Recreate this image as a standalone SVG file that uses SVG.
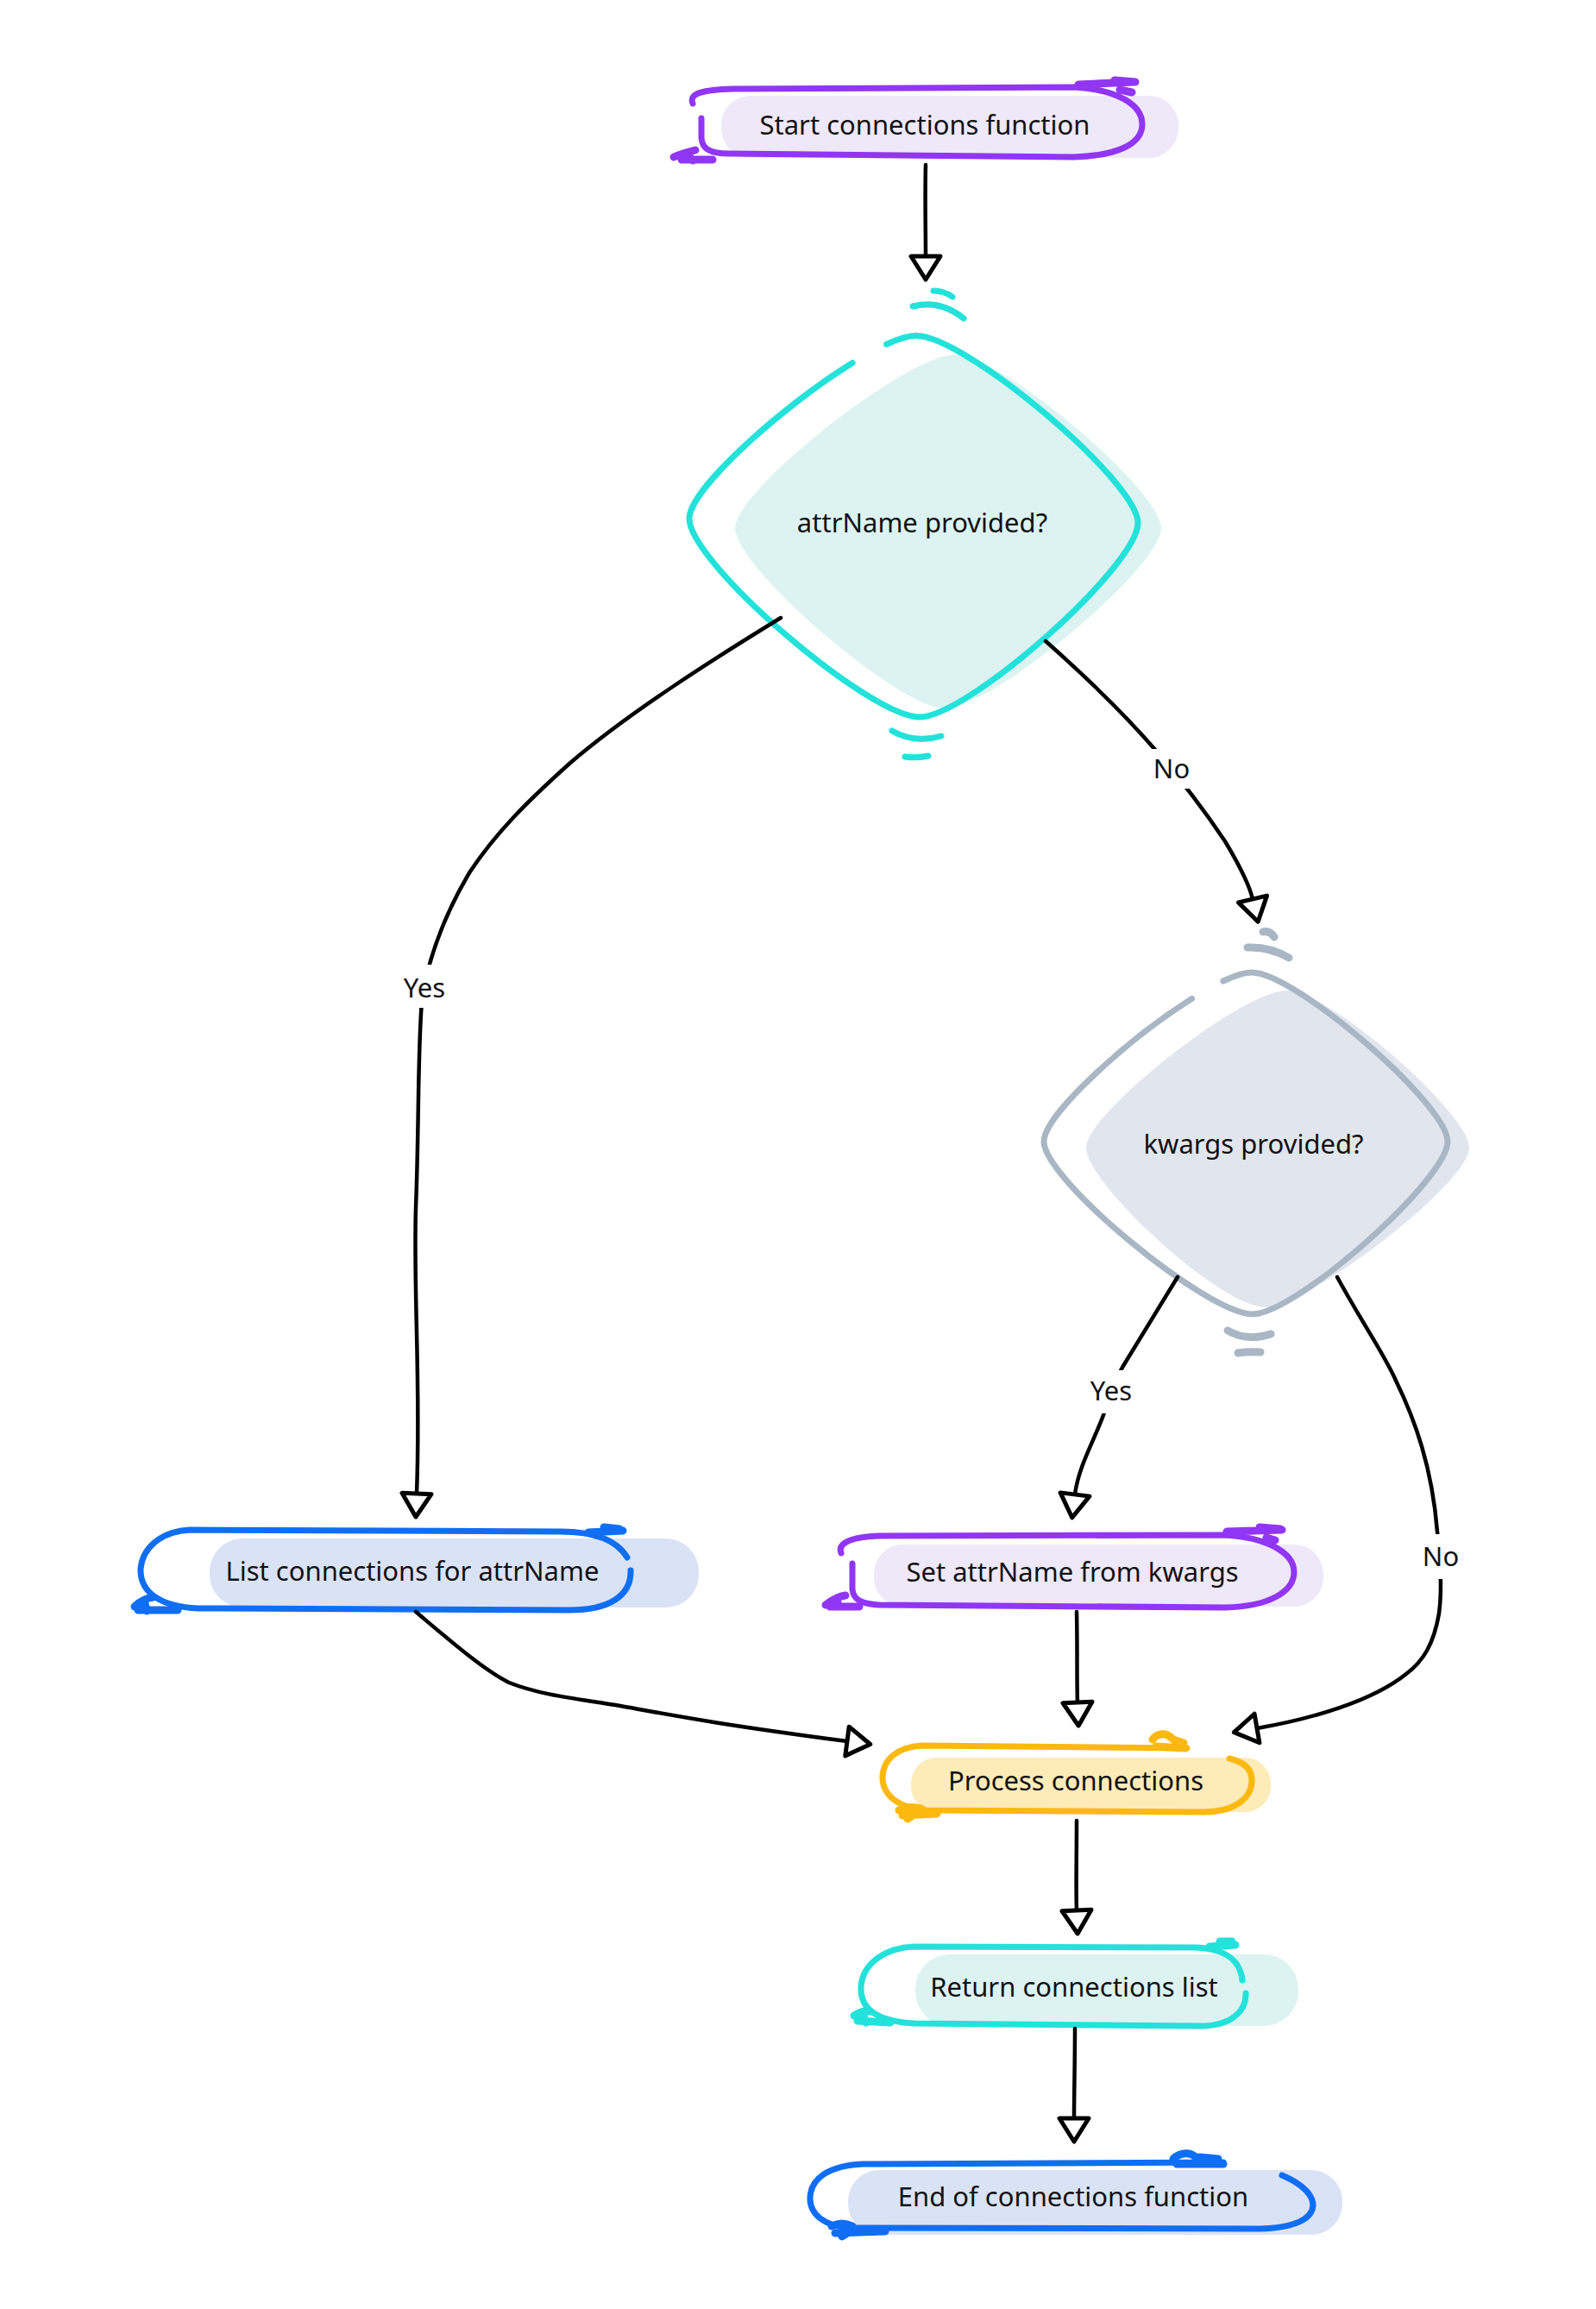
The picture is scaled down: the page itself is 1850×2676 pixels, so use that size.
<svg xmlns="http://www.w3.org/2000/svg" width="1850" height="2676" viewBox="0 0 1850 2676">
<style>
text { font-family: "Noto Sans", "Open Sans", "DejaVu Sans", sans-serif; font-size: 31px; fill: #111; text-anchor: middle; }
.o { fill: none; stroke-width: 7; stroke-linecap: round; stroke-linejoin: round; }
.sc { fill: none; stroke-width: 9; stroke-linecap: round; stroke-linejoin: round; }
.pu { stroke: #9136F5; }
.pu-f { fill: #EEE8F8; }
.te { stroke: #22E2DA; }
.te-f { fill: #DCF3F2; }
.bl { stroke: #0F6EF4; }
.bl-f { fill: #DAE3F5; }
.ye { stroke: #FBB90F; }
.ye-f { fill: #FDEBB8; }
.gr { stroke: #A9B6C4; }
.gr-f { fill: #E1E6EE; }
.e { fill: none; stroke: #000; stroke-width: 4.5; stroke-linecap: round; stroke-linejoin: round; }
.lbg { fill: #fff; }
</style>
<defs>
<marker id="ah" markerUnits="userSpaceOnUse" viewBox="-4 -21 38 42" markerWidth="38" markerHeight="42" refX="0" refY="0" orient="auto">
<path d="M0,-17 L27,0 L0,17 Z" fill="#fff" stroke="#000" stroke-width="5" stroke-linejoin="round"/>
</marker>
</defs>
<rect x="0" y="0" width="1850" height="2676" fill="#fff"/>

<g id="node-start">
<rect class="pu-f" x="836" y="111" width="530" height="72" rx="34"/>
<path class="o pu" d="M 803,120 C 798,108 815,104 850,103 L 1245,101 C 1297,104 1324,122 1324,144 C 1324,166 1298,180 1245,182 L 845,178 C 822,178 814,172 813,160 L 813,137"/>
<path class="sc pu" d="M 1250,98 L 1314,95 M 1292,93 L 1316,95 M 1298,104 L 1312,107"/>
<path class="sc pu" d="M 781,182 C 790,178 798,176 806,174 M 790,185 L 826,185 M 796,178 L 803,186"/>
<text x="1072" y="156">Start connections function</text>
</g>

<g id="node-attrName">
<path class="te-f" d="M 1107,411 C 1160,411 1346,568 1346,612 C 1346,658 1150,821 1095,821 C 1042,821 852,658 852,612 C 852,568 1051,411 1107,411 Z"/>
<path class="o te" pathLength="1000" stroke-dasharray="942 32 200" d="M 1062,389 C 1119,389 1319,558 1319,606 C 1319,656 1122,831 1066,831 C 1007,831 799,652 799,601 C 799,554 1004,389 1062,389"/>
<path class="o te" d="M 1082,337 Q 1094,337 1104,344 M 1058,355 Q 1090,347 1117,369 M 1034,847 Q 1060,862 1091,853 M 1049,877 Q 1062,879 1076,876"/>
<text x="1069" y="617">attrName provided?</text>
</g>

<g id="node-kwargs">
<path class="gr-f" d="M 1491,1148 C 1540,1148 1703,1290 1703,1330 C 1703,1372 1515,1515 1466,1515 C 1415,1515 1259,1372 1259,1330 C 1259,1290 1440,1148 1491,1148 Z"/>
<path class="o gr" pathLength="1000" stroke-dasharray="939 33 200" d="M 1451,1127 C 1501,1127 1678,1280 1678,1323 C 1678,1367 1502,1523 1452,1523 C 1399,1523 1210,1367 1210,1323 C 1210,1280 1398,1127 1451,1127"/>
<path class="sc gr" d="M 1464,1080 Q 1472,1078 1477,1086 M 1446,1098 Q 1472,1097 1494,1110 M 1423,1542 Q 1445,1555 1473,1546 M 1435,1568 Q 1448,1566 1461,1567"/>
<text x="1453" y="1337">kwargs provided?</text>
</g>

<g id="node-list">
<rect class="bl-f" x="243" y="1783" width="567" height="80" rx="38"/>
<path class="o bl" d="M 727,1805 C 715,1785 690,1775 650,1775 L 220,1773 C 185,1775 165,1795 163,1818 C 162,1845 185,1862 230,1864 L 660,1866 C 705,1866 732,1850 731,1820"/>
<path class="sc bl" d="M 682,1776 L 722,1774 M 700,1770 L 718,1772"/>
<path class="sc bl" d="M 156,1862 C 162,1856 170,1852 178,1851 M 160,1866 L 206,1866 M 168,1858 L 170,1867"/>
<text x="478" y="1832">List connections for attrName</text>
</g>

<g id="node-set">
<rect class="pu-f" x="1013" y="1790" width="521" height="72" rx="34"/>
<path class="o pu" d="M 975,1800 C 970,1787 990,1781 1020,1780 L 1420,1779 C 1470,1782 1500,1800 1500,1822 C 1500,1845 1470,1862 1420,1863 L 1020,1860 C 997,1859 989,1853 988,1842 L 988,1812"/>
<path class="sc pu" d="M 1422,1775 L 1486,1773 M 1460,1770 L 1484,1772 M 1468,1782 L 1478,1785"/>
<path class="sc pu" d="M 957,1860 C 965,1854 972,1850 980,1849 M 962,1862 L 996,1862 M 970,1853 L 972,1862"/>
<text x="1243" y="1833">Set attrName from kwargs</text>
</g>

<g id="node-process">
<rect class="ye-f" x="1056" y="2037" width="417" height="63" rx="30"/>
<path class="o ye" d="M 1376,2026 L 1070,2023 C 1040,2024 1023,2040 1023,2060 C 1023,2082 1045,2097 1075,2098 L 1395,2100 C 1430,2100 1450,2085 1451,2065 C 1452,2050 1442,2042 1425,2038"/>
<path class="sc ye" d="M 1336,2016 C 1342,2008 1352,2008 1358,2014 M 1340,2024 L 1374,2026 M 1360,2016 L 1372,2020"/>
<path class="sc ye" d="M 1042,2098 C 1050,2094 1060,2094 1068,2096 M 1046,2104 L 1086,2102 M 1052,2108 L 1058,2104"/>
<text x="1247" y="2075">Process connections</text>
</g>

<g id="node-return">
<rect class="te-f" x="1061" y="2265" width="444" height="83" rx="40"/>
<path class="o te" d="M 1440,2295 C 1438,2272 1420,2258 1385,2257 L 1060,2256 C 1020,2258 998,2280 998,2305 C 998,2330 1020,2343 1060,2345 L 1395,2348 C 1428,2347 1445,2330 1444,2310"/>
<path class="sc te" d="M 1402,2256 L 1432,2254 M 1414,2250 L 1428,2250"/>
<path class="sc te" d="M 990,2336 C 996,2332 1002,2330 1008,2331 M 994,2342 L 1032,2344 M 1000,2334 L 1004,2344"/>
<text x="1245" y="2314">Return connections list</text>
</g>

<g id="node-end">
<rect class="bl-f" x="983" y="2515" width="573" height="75" rx="36"/>
<path class="o bl" d="M 1486,2521 C 1512,2532 1522,2545 1522,2556 C 1521,2572 1500,2582 1460,2583 L 985,2582 C 955,2580 939,2566 939,2548 C 939,2525 960,2510 1000,2508 L 1418,2506"/>
<path class="sc bl" d="M 1360,2502 C 1368,2494 1380,2494 1386,2500 M 1364,2508 L 1418,2508 M 1390,2500 L 1412,2502"/>
<path class="sc bl" d="M 964,2580 C 972,2576 980,2576 988,2580 M 968,2588 L 1026,2586 M 976,2592 L 986,2586"/>
<text x="1244" y="2557">End of connections function</text>
</g>

<g id="connectors">
<path class="e" marker-end="url(#ah)" d="M 1073,191 C 1072,230 1073,262 1073,297"/>
<path class="e" marker-end="url(#ah)" d="M 905,716 C 830,762 730,825 660,885 C 610,930 575,965 545,1010 C 515,1060 498,1110 490,1150 C 484,1200 486,1300 482,1400 C 479,1500 488,1600 483,1731"/>
<path class="e" marker-end="url(#ah)" d="M 1212,743 C 1265,790 1310,835 1340,870 C 1370,905 1400,945 1420,975 C 1438,1005 1448,1025 1452,1042"/>
<path class="e" marker-end="url(#ah)" d="M 1365,1480 L 1302,1583 C 1290,1603 1285,1620 1279,1640 C 1268,1670 1250,1700 1246,1732"/>
<path class="e" marker-end="url(#ah)" d="M 1550,1480 C 1580,1535 1605,1570 1618,1600 C 1640,1645 1660,1700 1666,1775 C 1670,1810 1672,1840 1668,1870 C 1662,1905 1650,1925 1630,1940 C 1590,1972 1520,1992 1457,2003"/>
<path class="e" marker-end="url(#ah)" d="M 1248,1868 C 1249,1910 1248,1950 1249,1973"/>
<path class="e" marker-end="url(#ah)" d="M 482,1868 C 520,1900 560,1935 590,1950 C 630,1966 680,1970 719,1977 C 780,1988 830,1998 982,2018"/>
<path class="e" marker-end="url(#ah)" d="M 1248,2110 C 1248,2150 1247,2190 1248,2214"/>
<path class="e" marker-end="url(#ah)" d="M 1246,2351 C 1246,2390 1245,2430 1245,2455"/>
<g id="edge-labels">
<rect class="lbg" x="462" y="1118" width="60" height="50"/>
<text x="492" y="1156">Yes</text>
<rect class="lbg" x="1332" y="868" width="52" height="46"/>
<text x="1358" y="902">No</text>
<rect class="lbg" x="1258" y="1588" width="60" height="50"/>
<text x="1288" y="1623">Yes</text>
<rect class="lbg" x="1644" y="1778" width="52" height="52"/>
<text x="1670" y="1815">No</text>
</g>
</g>
</svg>
